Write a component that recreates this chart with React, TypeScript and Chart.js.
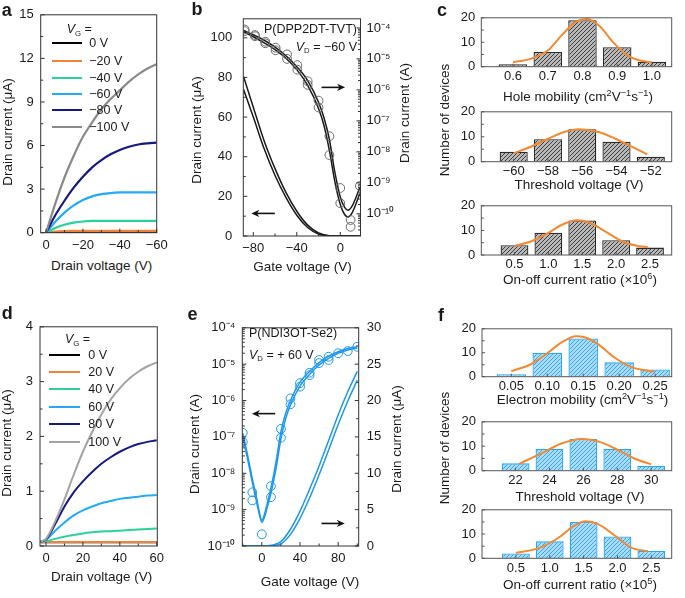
import React, { useEffect, useRef } from 'react';
import { Chart, registerables } from 'chart.js';
Chart.register(...registerables);

const FONT = '"Liberation Sans", Arial, Helvetica, sans-serif';
Chart.defaults.font.family = FONT;
Chart.defaults.font.size = 13;
Chart.defaults.color = '#1a1a1a';

// ---------------- Panel a (P(DPP2DT-TVT) output) ----------------
const vdA = [0, -5, -10, -15, -20, -25, -30, -35, -40, -45, -50, -55, -60];
const idA0 = [0, 0.01, 0.02, 0.02, 0.02, 0.02, 0.02, 0.02, 0.02, 0.02, 0.02, 0.02, 0.02];
const idA20 = [0, 0.08, 0.11, 0.12, 0.12, 0.12, 0.12, 0.12, 0.12, 0.12, 0.12, 0.12, 0.12];
const idA40 = [0, 0.33, 0.55, 0.69, 0.77, 0.81, 0.82, 0.82, 0.82, 0.82, 0.82, 0.82, 0.82];
const idA60 = [0, 0.75, 1.38, 1.88, 2.25, 2.5, 2.65, 2.73, 2.77, 2.78, 2.78, 2.78, 2.78];
const idA80 = [0, 1.2, 2.2, 3.1, 3.85, 4.5, 5.0, 5.4, 5.7, 5.92, 6.07, 6.15, 6.2];
const idA100 = [0, 2.0, 3.8, 5.3, 6.6, 7.6, 8.5, 9.2, 9.8, 10.4, 10.9, 11.3, 11.6];
const legendA = ['0 V', '\u221220 V', '\u221240 V', '\u221260 V', '\u221280 V', '\u2212100 V'];
const colorsA = ['#000000', '#f0823a', '#2ad19a', '#27a9f6', '#161a7e', '#8a8a8a'];
const xTicksA = [0, -20, -40, -60];
const yTicksA = [0, 3, 6, 9, 12, 15];

// ---------------- Panel b (transfer, p-type) ----------------
const vgBLin = [-89, -80, -70, -60, -50, -40, -30, -20, -10, 0, 10, 18];
const idBLin1 = [80.5, 65, 48, 34, 22, 12.5, 5.5, 1.5, 0.1, 0, 0, 0];
const idBLin2 = [74, 60, 44, 30.5, 19.5, 10.5, 4.3, 1.0, 0.05, 0, 0, 0];
const vgBLog = [-89, -80, -70, -60, -50, -40, -30, -20, -15, -10, -5, 0, 4, 7, 11, 18];
const idBLog1 = [8.3e-5, 6.0e-5, 4.0e-5, 2.4e-5, 1.26e-5, 5.6e-6, 2.0e-6, 4.0e-7, 1.26e-7, 2.5e-8, 2.2e-9, 3.5e-10, 1.6e-10, 1.3e-10, 1.8e-10, 7.1e-10];
const idBLog2 = [7.6e-5, 5.2e-5, 3.3e-5, 2.0e-5, 1.05e-5, 4.5e-6, 1.4e-6, 2.5e-7, 7.1e-8, 1.1e-8, 1.1e-9, 2.0e-10, 9.5e-11, 7.9e-11, 1.1e-10, 4.5e-10];
const vgBDots = [-88, -88, -78.5, -78.5, -69, -69, -59.5, -59.5, -49, -49, -39.5, -39.5, -30, -30, -20, -20, -10, -10, 0, 0, 9.5, 9.5, 18];
const idBDots = [8.9e-5, 7.9e-5, 5.9e-5, 5.4e-5, 3.6e-5, 3.2e-5, 2.3e-5, 1.9e-5, 1.4e-5, 1.0e-5, 6.3e-6, 4.5e-6, 1.9e-6, 1.45e-6, 4.5e-7, 2.7e-7, 3.2e-8, 7.9e-9, 6.8e-10, 2.2e-10, 6.3e-11, 3.8e-11, 7.9e-10];
const xTicksB = [-80, -40, 0];
const yTicksB = [0, 20, 40, 60, 80, 100];
const logTicksB = [-4, -5, -6, -7, -8, -9, -10];

// ---------------- Panel d (P(NDI3OT-Se2) output) ----------------
const vdD = [-3, 0, 5, 10, 15, 20, 25, 30, 35, 40, 45, 50, 55, 60];
const idD0 = [0.07, 0.07, 0.07, 0.07, 0.07, 0.07, 0.07, 0.07, 0.07, 0.07, 0.07, 0.07, 0.07, 0.07];
const idD20 = [0.075, 0.075, 0.075, 0.075, 0.075, 0.075, 0.075, 0.075, 0.075, 0.075, 0.075, 0.075, 0.075, 0.075];
const idD40 = [0.08, 0.09, 0.13, 0.17, 0.2, 0.23, 0.25, 0.265, 0.27, 0.28, 0.29, 0.3, 0.31, 0.32];
const idD60 = [0.08, 0.11, 0.28, 0.43, 0.56, 0.65, 0.72, 0.78, 0.82, 0.86, 0.88, 0.9, 0.92, 0.93];
const idD80 = [0.08, 0.12, 0.4, 0.72, 0.98, 1.18, 1.35, 1.5, 1.62, 1.72, 1.8, 1.86, 1.9, 1.93];
const idD100 = [0.08, 0.13, 0.45, 0.85, 1.3, 1.72, 2.08, 2.4, 2.67, 2.88, 3.05, 3.18, 3.28, 3.35];
const legendD = ['0 V', '20 V', '40 V', '60 V', '80 V', '100 V'];
const colorsD = ['#000000', '#f0823a', '#2ad19a', '#27a9f6', '#161a7e', '#a3a3a3'];
const xTicksD = [0, 20, 40, 60];
const yTicksD = [0, 1, 2, 3, 4];

// ---------------- Panel e (transfer, n-type) ----------------
const vgELog = [-20, -15, -10, -5, -2.5, 0, 2.5, 5, 10, 15, 20, 25, 30, 40, 50, 60, 70, 80, 90, 100];
const idELog1 = [1.26e-7, 3.2e-8, 7.1e-9, 1.8e-9, 8.3e-10, 5.0e-10, 7.1e-10, 1.26e-9, 4.5e-9, 2.2e-8, 1.4e-7, 4.5e-7, 1.0e-6, 3.2e-6, 6.3e-6, 1.1e-5, 1.66e-5, 2.2e-5, 2.7e-5, 3.0e-5];
const idELog2 = [1.0e-7, 2.5e-8, 5.6e-9, 1.4e-9, 7.1e-10, 4.5e-10, 6.0e-10, 1.0e-9, 3.2e-9, 1.4e-8, 8.9e-8, 3.2e-7, 7.6e-7, 2.5e-6, 5.2e-6, 9.5e-6, 1.45e-5, 2.0e-5, 2.45e-5, 2.8e-5];
const vgEDots = [-20, -20, -10, -10, 0, 9.5, 9.5, 20, 20, 30, 30, 40, 40, 50, 50, 60, 60, 70, 70, 80, 90, 100];
const idEDots = [1.3e-7, 7.2e-8, 3.0e-9, 1.8e-9, 2.1e-10, 4.4e-9, 2.2e-9, 1.66e-7, 9.5e-8, 1.15e-6, 7.9e-7, 3.0e-6, 2.4e-6, 5.8e-6, 5.0e-6, 1.07e-5, 1.3e-5, 1.6e-5, 1.3e-5, 2.0e-5, 2.3e-5, 3.0e-5];
const vgELin = [-20, 0, 10, 20, 30, 40, 50, 60, 70, 80, 90, 100];
const idELin1 = [0, 0, 0.1, 0.6, 2.3, 4.8, 7.8, 11.0, 14.5, 18.0, 21.2, 24.0];
const idELin2 = [0, 0, 0.05, 0.3, 1.6, 3.8, 6.6, 9.8, 13.2, 16.7, 19.9, 22.8];
const xTicksE = [0, 40, 80];
const logTicksE = [-4, -5, -6, -7, -8, -9, -10];
const yTicksE = [0, 5, 10, 15, 20, 25, 30];

// ---------------- Histograms (c: p-type, f: n-type) ----------------
const c1Cats = [0.6, 0.7, 0.8, 0.9, 1.0];
const c1Counts = [1, 6, 19, 8, 2];
const c1Labels = ['0.6', '0.7', '0.8', '0.9', '1.0'];
const c1FitX = [0.6, 0.65, 0.7, 0.74, 0.78, 0.815, 0.85, 0.885, 0.93, 0.97, 1.0];
const c1FitY = [1.8, 3.2, 6.6, 12.8, 18.2, 19.5, 16.5, 10.5, 4.5, 2.4, 1.8];

const c2Cats = [-60, -58, -56, -54, -52];
const c2Counts = [4, 9, 13, 8, 2];
const c2Labels = ['\u221260', '\u221258', '\u221256', '\u221254', '\u221252'];
const c2FitX = [-60, -59, -58, -57, -56.2, -55, -54, -53, -52.2];
const c2FitY = [3.4, 6.0, 9.2, 12.0, 13.0, 11.8, 9.0, 5.6, 2.9];

const c3Cats = [0.5, 1.0, 1.5, 2.0, 2.5];
const c3Counts = [4, 9, 14, 6, 3];
const c3Labels = ['0.5', '1.0', '1.5', '2.0', '2.5'];
const c3FitX = [0.5, 0.75, 1.0, 1.2, 1.42, 1.6, 1.85, 2.1, 2.3, 2.47];
const c3FitY = [3.7, 5.6, 9.0, 12.3, 14.1, 13.2, 9.4, 5.4, 3.8, 3.1];

const f1Cats = [0.05, 0.1, 0.15, 0.2, 0.25];
const f1Counts = [1, 10, 16, 6, 3];
const f1Labels = ['0.05', '0.10', '0.15', '0.20', '0.25'];
const f1FitX = [0.05, 0.078, 0.1, 0.12, 0.14, 0.152, 0.17, 0.194, 0.217, 0.249];
const f1FitY = [2.3, 5.3, 9.8, 14.3, 16.9, 16.5, 13.7, 7.9, 4.0, 2.1];

const f2Cats = [22, 24, 26, 28, 30];
const f2Counts = [3, 9, 13, 9, 2];
const f2Labels = ['22', '24', '26', '28', '30'];
const f2FitX = [22.2, 23.6, 24.7, 25.9, 27.0, 28.2, 29.0, 30.0];
const f2FitY = [2.8, 7.3, 11.1, 13.0, 11.7, 7.9, 5.0, 2.6];

const f3Cats = [0.5, 1.0, 1.5, 2.0, 2.5];
const f3Counts = [2, 7, 15, 9, 3];
const f3Labels = ['0.5', '1.0', '1.5', '2.0', '2.5'];
const f3FitX = [0.5, 0.86, 1.15, 1.34, 1.53, 1.72, 2.01, 2.2, 2.45];
const f3FitY = [2.2, 4.4, 8.9, 13.1, 15.3, 14.0, 8.3, 4.4, 2.9];

const histYTicks = [0, 10, 20];
const ORANGE = '#f28a33';
const BLUE = '#1e97ee';
const TITLE = 13.5;

// ---------------- helpers ----------------
type Rect = { l: number; t: number; r: number; b: number };
type Cv = { x: number; y: number; w: number; h: number };

const SUPS: Record<string, string> = { '-': '\u207b', '0': '\u2070', '1': '\u00b9', '2': '\u00b2', '3': '\u00b3', '4': '\u2074', '5': '\u2075', '6': '\u2076', '7': '\u2077', '8': '\u2078', '9': '\u2079' };
const pow10 = (v: number) => '10' + String(Math.round(Math.log10(v))).split('').map((c) => SUPS[c]).join('');
const mfmt = (v: number) => (v < 0 ? '\u2212' + Math.abs(v) : String(v));
const pts = (xs: number[], ys: number[]) => xs.map((x, i) => ({ x, y: ys[i] }));
const mids = (arr: number[]) => arr.slice(1).map((v, i) => (v + arr[i]) / 2);
const logMinors = (e0: number, e1: number) => {
  const out: number[] = [];
  for (let e = e0; e <= e1; e++) for (let m = 2; m <= 9; m++) out.push(m * Math.pow(10, e));
  return out;
};

function axis(pos: string, min: number, max: number, ticks: number[], fmt: (v: number, i: number) => string, pad: number, extra: any = {}) {
  return {
    type: 'linear', position: pos, min, max,
    grid: { display: false, drawTicks: false }, border: { display: false },
    afterBuildTicks: (s: any) => { s.ticks = ticks.map((v) => ({ value: v })); },
    ticks: { padding: pad, autoSkip: false, maxRotation: 0, minRotation: 0, callback: (v: any, i: number) => fmt(Number(v), i) },
    ...extra,
  };
}
function logAxis(pos: string, min: number, max: number, exps: number[], pad: number) {
  return {
    type: 'logarithmic', position: pos, min, max,
    grid: { display: false, drawTicks: false }, border: { display: false },
    afterBuildTicks: (s: any) => { s.ticks = exps.map((e) => ({ value: Math.pow(10, e) })); },
    ticks: { padding: pad, autoSkip: false, callback: (v: any) => pow10(Number(v)) },
  };
}

function options(plot: Rect, cv: Cv, scales: any) {
  const ml = plot.l - cv.x, mt = plot.t - cv.y, mr = cv.x + cv.w - plot.r, mb = cv.y + cv.h - plot.b;
  const hasY2 = !!scales.y2;
  scales.x.afterFit = (s: any) => { s.height = mb; };
  scales.y.afterFit = (s: any) => { s.width = ml; };
  if (hasY2) scales.y2.afterFit = (s: any) => { s.width = mr; };
  return {
    responsive: false, maintainAspectRatio: false, animation: false, events: [],
    layout: { padding: { left: 0, top: mt, right: hasY2 ? 0 : mr, bottom: 0 } },
    plugins: { legend: { display: false }, tooltip: { enabled: false }, title: { display: false } },
    scales,
  };
}

type TickSpec = Record<string, { len?: number; minor?: number[]; minorLen?: number }>;
function framePlugin(color: string, spec: TickSpec) {
  return {
    id: 'frame',
    afterDatasetsDraw(chart: any) {
      const { ctx, chartArea: ca } = chart;
      ctx.save();
      ctx.strokeStyle = color;
      ctx.lineWidth = 1;
      ctx.strokeRect(ca.left, ca.top, ca.right - ca.left, ca.bottom - ca.top);
      for (const id of Object.keys(spec)) {
        const s = chart.scales[id];
        const sp = spec[id];
        const lo = Math.min(s.min, s.max), hi = Math.max(s.min, s.max);
        const draw = (v: number, L: number) => {
          if (v < lo - 1e-12 || v > hi + 1e-12) return;
          const p = s.getPixelForValue(v);
          ctx.beginPath();
          if (s.isHorizontal()) { ctx.moveTo(p, ca.bottom); ctx.lineTo(p, ca.bottom - L); }
          else if (s.position === 'right') { ctx.moveTo(ca.right, p); ctx.lineTo(ca.right - L, p); }
          else { ctx.moveTo(ca.left, p); ctx.lineTo(ca.left + L, p); }
          ctx.stroke();
        };
        s.ticks.forEach((t: any) => draw(t.value, sp.len ?? 4));
        (sp.minor || []).forEach((v) => draw(v, sp.minorLen ?? 2.5));
      }
      ctx.restore();
    },
  };
}

type Arrow = { x1: number; x2: number; y: number; axis: string };
function arrowPlugin(arrows: Arrow[]) {
  return {
    id: 'arrows',
    afterDatasetsDraw(chart: any) {
      const ctx = chart.ctx;
      ctx.save();
      ctx.strokeStyle = '#111';
      ctx.fillStyle = '#111';
      ctx.lineWidth = 1.6;
      for (const a of arrows) {
        const xs = chart.scales.x, ys = chart.scales[a.axis];
        const X1 = xs.getPixelForValue(a.x1), X2 = xs.getPixelForValue(a.x2), Y = ys.getPixelForValue(a.y);
        const d = Math.sign(X2 - X1), H = 8;
        ctx.beginPath(); ctx.moveTo(X1, Y); ctx.lineTo(X2 - d * H * 0.6, Y); ctx.stroke();
        ctx.beginPath(); ctx.moveTo(X2, Y); ctx.lineTo(X2 - d * H, Y - 3.6); ctx.lineTo(X2 - d * H * 0.7, Y); ctx.lineTo(X2 - d * H, Y + 3.6); ctx.closePath(); ctx.fill();
      }
      ctx.restore();
    },
  };
}

const lineDs = (xs: number[], ys: number[], color: string, width = 2, yAxisID = 'y', order = 0) => ({
  type: 'line', data: pts(xs, ys), borderColor: color, backgroundColor: color, borderWidth: width,
  pointRadius: 0, cubicInterpolationMode: 'monotone', yAxisID, order, fill: false,
});
const dotDs = (xs: number[], ys: number[], color: string, yAxisID: string) => ({
  type: 'line', data: pts(xs, ys), showLine: false, pointRadius: 4.4, pointBorderWidth: 1,
  pointBorderColor: color, pointBackgroundColor: 'rgba(0,0,0,0)', borderColor: color, yAxisID, order: -10,
});

function hatch(bg: string, fg: string) {
  const c = document.createElement('canvas');
  c.width = 4; c.height = 4;
  const x = c.getContext('2d')!;
  x.fillStyle = bg; x.fillRect(0, 0, 4, 4);
  x.strokeStyle = fg; x.lineWidth = 1;
  x.beginPath();
  x.moveTo(0, 4); x.lineTo(4, 0);
  x.moveTo(-1, 1); x.lineTo(1, -1);
  x.moveTo(3, 5); x.lineTo(5, 3);
  x.stroke();
  return x.createPattern(c, 'repeat')!;
}

// ---------------- geometry ----------------
const plotA: Rect = { l: 40.7, t: 11.7, r: 156.7, b: 232.7 };
const cvA: Cv = { x: 10, y: 0, w: 168, h: 258 };
const plotB: Rect = { l: 243.3, t: 14, r: 360.5, b: 236 };
const cvB: Cv = { x: 200, y: 0, w: 202, h: 260 };
const plotD: Rect = { l: 40, t: 325, r: 157.3, b: 546 };
const cvD: Cv = { x: 10, y: 312, w: 168, h: 260 };
const plotE: Rect = { l: 242.3, t: 325, r: 358.7, b: 546 };
const cvE: Cv = { x: 198, y: 312, w: 204, h: 260 };
const histPlot = (l: number, r: number, t: number, b: number): Rect => ({ l, t, r, b });
const histCv = (p: Rect): Cv => ({ x: 456, y: Math.round(p.t - 10), w: 228, h: Math.round(p.b + 22) - Math.round(p.t - 10) });

// ---------------- configs ----------------
function cfgA() {
  const ys = [idA0, idA20, idA40, idA60, idA80, idA100];
  const scales: any = {
    x: axis('bottom', -60, 2.9, xTicksA, mfmt, 5, { reverse: true }),
    y: axis('left', 0, 15, yTicksA, mfmt, 7),
  };
  return {
    type: 'line',
    data: { datasets: ys.map((y, i) => lineDs(vdA, y, colorsA[i], 2.2, 'y', ys.length - i)) },
    options: options(plotA, cvA, scales),
    plugins: [framePlugin('#333', { x: { len: 4, minor: mids(xTicksA) }, y: { len: 4, minor: mids(yTicksA) } })],
  };
}

function cfgB() {
  const scales: any = {
    x: axis('bottom', -89.2, 18.6, xTicksB, mfmt, 5),
    y: axis('left', 0, 109.6, yTicksB, mfmt, 11),
    y2: logAxis('right', 1.92e-11, 1.97e-4, logTicksB, 6),
  };
  return {
    type: 'line',
    data: {
      datasets: [
        lineDs(vgBLin, idBLin1, '#1a1a1a', 1.5, 'y', 1),
        lineDs(vgBLin, idBLin2, '#1a1a1a', 1.5, 'y', 1),
        lineDs(vgBLog, idBLog1, '#1a1a1a', 1.5, 'y2', 1),
        lineDs(vgBLog, idBLog2, '#1a1a1a', 1.5, 'y2', 1),
        dotDs(vgBDots, idBDots, '#6a6a6a', 'y2'),
      ],
    },
    options: options(plotB, cvB, scales),
    plugins: [
      framePlugin('#333', { x: { len: 4, minor: [-60, -20] }, y: { len: 4, minor: mids(yTicksB) }, y2: { len: 4, minor: logMinors(-11, -4) } }),
      arrowPlugin([
        { x1: -60.2, x2: -81.8, y: 11.4, axis: 'y' },
        { x1: -17.2, x2: 4.4, y: 75, axis: 'y' },
      ]),
    ],
  };
}

function cfgD() {
  const ys = [idD0, idD20, idD40, idD60, idD80, idD100];
  const scales: any = {
    x: axis('bottom', -3.25, 60.3, xTicksD, mfmt, 5),
    y: axis('left', 0, 4, yTicksD, mfmt, 7),
  };
  return {
    type: 'line',
    data: { datasets: ys.map((y, i) => lineDs(vdD, y, colorsD[i], 2, 'y', ys.length - i)) },
    options: options(plotD, cvD, scales),
    plugins: [framePlugin('#333', { x: { len: 4, minor: mids(xTicksD) }, y: { len: 4, minor: mids(yTicksD) } })],
  };
}

function cfgE() {
  const scales: any = {
    x: axis('bottom', -20.5, 101.5, xTicksE, mfmt, 5),
    y: logAxis('left', 1e-10, 1e-4, logTicksE, 7),
    y2: axis('right', 0, 30, yTicksE, mfmt, 8),
  };
  return {
    type: 'line',
    data: {
      datasets: [
        lineDs(vgELog, idELog1, BLUE, 1.5, 'y', 1),
        lineDs(vgELog, idELog2, BLUE, 1.5, 'y', 1),
        lineDs(vgELin, idELin1, BLUE, 1.5, 'y2', 1),
        lineDs(vgELin, idELin2, BLUE, 1.5, 'y2', 1),
        dotDs(vgEDots, idEDots, BLUE, 'y'),
      ],
    },
    options: options(plotE, cvE, scales),
    plugins: [
      framePlugin('#333', { x: { len: 4, minor: [-20, 20, 60, 100] }, y: { len: 4, minor: logMinors(-10, -5) }, y2: { len: 4, minor: mids(yTicksE) } }),
      arrowPlugin([
        { x1: 14, x2: -10.4, y: 18.2, axis: 'y2' },
        { x1: 62.5, x2: 86.9, y: 3.1, axis: 'y2' },
      ]),
    ],
  };
}

function cfgHist(cats: number[], counts: number[], labels: string[], fx: number[], fy: number[], xMin: number, xMax: number, plot: Rect, blue: boolean) {
  const fill = blue ? hatch('#a8dbfc', '#3aa6f0') : hatch('#b9b9b9', '#3c3c3c');
  const border = blue ? '#2aa6f2' : '#2a2a2a';
  const scales: any = {
    x: axis('bottom', xMin, xMax, cats, (_v, i) => labels[i], 2, { offset: false }),
    y: axis('left', 0, 20, histYTicks, mfmt, 6),
  };
  return {
    type: 'bar',
    data: {
      datasets: [
        { type: 'bar', data: pts(cats, counts), backgroundColor: fill, borderColor: border, borderWidth: 1.3, barPercentage: 0.82, categoryPercentage: 1, order: 2 },
        { type: 'line', data: pts(fx, fy), borderColor: ORANGE, borderWidth: 2, pointRadius: 0, cubicInterpolationMode: 'monotone', fill: false, order: 1 },
      ],
    },
    options: options(plot, histCv(plot), scales),
    plugins: [framePlugin('#555', { x: { len: 3 }, y: { len: 3, minor: mids(histYTicks) } })],
  };
}

const pC1 = histPlot(481.3, 671.7, 14, 66.7);
const pC2 = histPlot(481.3, 671.7, 108.3, 161.7);
const pC3 = histPlot(481.3, 671.7, 201.7, 255);
const pF1 = histPlot(482, 671.7, 325, 376.7);
const pF2 = histPlot(482, 671.7, 418.3, 470.7);
const pF3 = histPlot(482, 671.7, 506, 558.3);

// ---------------- components ----------------
function ChartCanvas({ cv, make }: { cv: Cv; make: () => any }) {
  const ref = useRef<HTMLCanvasElement>(null);
  useEffect(() => {
    const chart = new Chart(ref.current as HTMLCanvasElement, make());
    return () => chart.destroy();
  }, []);
  return <canvas ref={ref} width={cv.w} height={cv.h} style={{ position: 'absolute', left: cv.x, top: cv.y, width: cv.w, height: cv.h }} />;
}

type TxtProps = { x: number; y: number; children: React.ReactNode; size?: number; bold?: boolean; rot?: boolean; anchor?: 'start' | 'middle' | 'end' };
function Txt({ x, y, children, size = TITLE, bold, rot, anchor = 'middle' }: TxtProps) {
  const tx = anchor === 'start' ? '0%' : anchor === 'end' ? '-100%' : '-50%';
  return (
    <div style={{ position: 'absolute', left: x, top: y, fontFamily: FONT, fontSize: size, fontWeight: bold ? 'bold' : 'normal', lineHeight: 1, whiteSpace: 'nowrap', color: '#1a1a1a', transform: `translate(${tx},-50%)${rot ? ' rotate(-90deg)' : ''}` }}>
      {children}
    </div>
  );
}
const Sup = ({ children }: { children: React.ReactNode }) => <span style={{ fontSize: '0.68em', position: 'relative', top: '-0.5em' }}>{children}</span>;
const Sub = ({ children }: { children: React.ReactNode }) => <span style={{ fontSize: '0.62em', position: 'relative', top: '0.3em', fontStyle: 'normal' }}>{children}</span>;

function Legend({ x0, x1, tx, rows, labels, colors, headX, headY, sub }: { x0: number; x1: number; tx: number; rows: number[]; labels: string[]; colors: string[]; headX: number; headY: number; sub: string }) {
  return (
    <>
      <Txt x={headX} y={headY} size={12.5} anchor="start"><i>V</i><Sub>{sub}</Sub> =</Txt>
      {rows.map((ry, i) => (
        <React.Fragment key={i}>
          <div style={{ position: 'absolute', left: x0, top: ry - 1, width: x1 - x0, height: 2, background: colors[i] }} />
          <Txt x={tx} y={ry} size={12.5} anchor="start">{labels[i]}</Txt>
        </React.Fragment>
      ))}
    </>
  );
}

export default function App() {
  return (
    <div style={{ position: 'absolute', left: 0, top: 0, width: 685, height: 598, background: '#fff', overflow: 'hidden' }}>
      <ChartCanvas cv={cvA} make={cfgA} />
      <ChartCanvas cv={cvB} make={cfgB} />
      <ChartCanvas cv={cvD} make={cfgD} />
      <ChartCanvas cv={cvE} make={cfgE} />
      <ChartCanvas cv={histCv(pC1)} make={() => cfgHist(c1Cats, c1Counts, c1Labels, c1FitX, c1FitY, 0.5086, 1.057, pC1, false)} />
      <ChartCanvas cv={histCv(pC2)} make={() => cfgHist(c2Cats, c2Counts, c2Labels, c2FitX, c2FitY, -61.89, -50.78, pC2, false)} />
      <ChartCanvas cv={histCv(pC3)} make={() => cfgHist(c3Cats, c3Counts, c3Labels, c3FitX, c3FitY, 0.01, 2.82, pC3, false)} />
      <ChartCanvas cv={histCv(pF1)} make={() => cfgHist(f1Cats, f1Counts, f1Labels, f1FitX, f1FitY, 0.0093, 0.273, pF1, true)} />
      <ChartCanvas cv={histCv(pF2)} make={() => cfgHist(f2Cats, f2Counts, f2Labels, f2FitX, f2FitY, 20.02, 31.21, pF2, true)} />
      <ChartCanvas cv={histCv(pF3)} make={() => cfgHist(f3Cats, f3Counts, f3Labels, f3FitX, f3FitY, 0.0, 2.8, pF3, true)} />

      {/* panel letters */}
      <Txt x={1.7} y={9.5} size={18} bold anchor="start">a</Txt>
      <Txt x={191.5} y={8.5} size={18} bold anchor="start">b</Txt>
      <Txt x={437} y={9.5} size={18} bold anchor="start">c</Txt>
      <Txt x={1.7} y={313} size={18} bold anchor="start">d</Txt>
      <Txt x={187.5} y={314.3} size={18} bold anchor="start">e</Txt>
      <Txt x={438} y={314.5} size={18} bold anchor="start">f</Txt>

      {/* panel a */}
      <Legend x0={52.3} x1={81.7} tx={89.3} rows={[43.3, 61, 77.7, 94.3, 110, 126.7]} labels={legendA} colors={colorsA} headX={66.7} headY={29.3} sub="G" />
      <Txt x={101.7} y={265.7}>Drain voltage (V)</Txt>
      <Txt x={7.5} y={132} rot>Drain current (μA)</Txt>

      {/* panel b */}
      <Txt x={357} y={29} size={12.5} anchor="end">P(DPP2DT-TVT)</Txt>
      <Txt x={357} y={47} size={12.5} anchor="end"><i>V</i><Sub>D</Sub> = {'\u2212'}60 V</Txt>
      <Txt x={302.5} y={266.7}>Gate voltage (V)</Txt>
      <Txt x={196.7} y={130} rot>Drain current (μA)</Txt>
      <Txt x={405} y={113} rot>Drain current (A)</Txt>

      {/* panel c */}
      <Txt x={445} y={120} rot>Number of devices</Txt>
      <Txt x={578} y={96.7}>Hole mobility (cm<Sup>2</Sup>V<Sup>{'\u2212'}1</Sup>s<Sup>{'\u2212'}1</Sup>)</Txt>
      <Txt x={579} y={185}>Threshold voltage (V)</Txt>
      <Txt x={580} y={280}>On-off current ratio (×10<Sup>6</Sup>)</Txt>

      {/* panel d */}
      <Legend x0={49.3} x1={80} tx={88.3} rows={[355, 371.7, 389.3, 406.7, 424, 441.7]} labels={legendD} colors={colorsD} headX={65} headY={339.3} sub="G" />
      <Txt x={101.7} y={576.7}>Drain voltage (V)</Txt>
      <Txt x={6.7} y={443} rot>Drain current (μA)</Txt>

      {/* panel e */}
      <Txt x={249} y={333} size={12.5} anchor="start">P(NDI3OT-Se2)</Txt>
      <Txt x={249} y={355} size={12.5} anchor="start"><i>V</i><Sub>D</Sub> = + 60 V</Txt>
      <Txt x={310} y={581.7}>Gate voltage (V)</Txt>
      <Txt x={195} y={444} rot>Drain current (A)</Txt>
      <Txt x={396.7} y={439} rot>Drain current (μA)</Txt>

      {/* panel f */}
      <Txt x={445} y={448} rot>Number of devices</Txt>
      <Txt x={582.5} y={400}>Electron mobility (cm<Sup>2</Sup>V<Sup>{'\u2212'}1</Sup>s<Sup>{'\u2212'}1</Sup>)</Txt>
      <Txt x={580} y={496.7}>Threshold voltage (V)</Txt>
      <Txt x={580} y={585}>On-off current ratio (×10<Sup>5</Sup>)</Txt>
    </div>
  );
}
